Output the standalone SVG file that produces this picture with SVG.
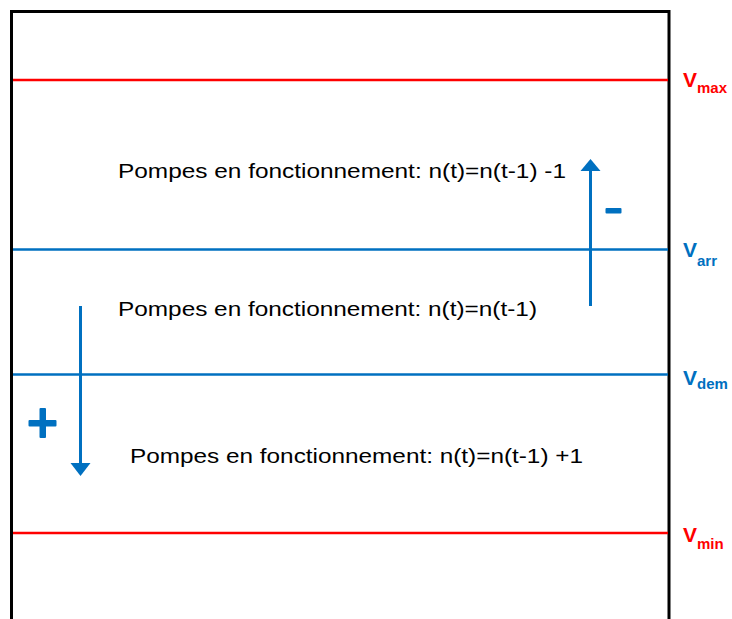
<svg xmlns="http://www.w3.org/2000/svg" width="732" height="619" viewBox="0 0 732 619">
<style>
.txt{font-family:"Liberation Sans",Arial,sans-serif;font-size:20px;fill:#000}
.lab{font-family:"Liberation Sans",Arial,sans-serif;font-weight:bold}
.red{fill:#FF0000}
.blue{fill:#0070C0}
.lred{stroke:#FF0000;stroke-width:2.5;fill:none}
.lblue{stroke:#0070C0;stroke-width:2.5;fill:none}
.arr{stroke:#0070C0;stroke-width:3;fill:none}
</style>
<rect width="732" height="619" fill="#fff"/>
<g id="box"><path d="M11.5,625 V11.5 H669 V625" fill="none" stroke="#000" stroke-width="3"/></g>
<g id="levels">
<line class="lred" x1="13" y1="80" x2="668" y2="80"/>
<line class="lblue" x1="13" y1="249.5" x2="668" y2="249.5"/>
<line class="lblue" x1="13" y1="374.5" x2="668" y2="374.5"/>
<line class="lred" x1="13" y1="533" x2="668" y2="533"/>
</g>
<g id="labels">
<text class="lab red" x="683" y="87" font-size="21">V<tspan font-size="15" dy="6">max</tspan></text>
<text class="lab blue" x="683" y="257" font-size="21">V<tspan font-size="15" dy="9">arr</tspan></text>
<text class="lab blue" x="683" y="385" font-size="21">V<tspan font-size="15" dy="4">dem</tspan></text>
<text class="lab red" x="683" y="542" font-size="21">V<tspan font-size="15" dy="7">min</tspan></text>
</g>
<g id="texts">
<text class="txt" x="118" y="178" textLength="448" lengthAdjust="spacingAndGlyphs">Pompes en fonctionnement: n(t)=n(t-1) -1</text>
<text class="txt" x="118" y="316" textLength="419" lengthAdjust="spacingAndGlyphs">Pompes en fonctionnement: n(t)=n(t-1)</text>
<text class="txt" x="130" y="463" textLength="453" lengthAdjust="spacingAndGlyphs">Pompes en fonctionnement: n(t)=n(t-1) +1</text>
</g>
<g id="connectors">
<line class="arr" x1="590.5" y1="306" x2="590.5" y2="168"/>
<polygon class="blue" points="580.5,171 600.5,171 590.5,159"/>
<line class="arr" x1="80.5" y1="306" x2="80.5" y2="465"/>
<polygon class="blue" points="70.5,463 90.5,463 80.5,476"/>
</g>
<g id="signs">
<rect class="blue" x="605.5" y="208" width="16" height="5.5" rx="1"/>
<rect class="blue" x="28.5" y="420" width="28" height="6.5" rx="1"/>
<rect class="blue" x="39.5" y="408" width="6.5" height="30" rx="1"/>
</g>
</svg>
